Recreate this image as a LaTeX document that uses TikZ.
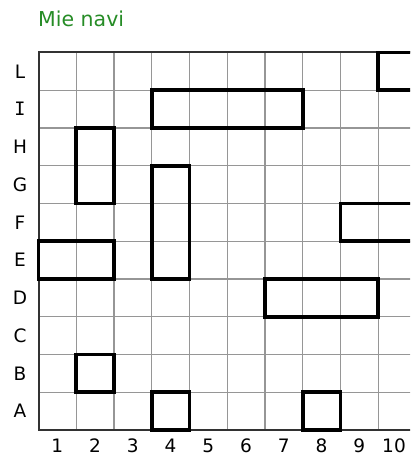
\documentclass[tikz,border=0pt]{standalone}
\usepackage{fontspec}
\setmainfont{DejaVu Sans}
\newfontfamily\monofnt{DejaVu Sans Mono}
\definecolor{titlegreen}{RGB}{38,140,38}
\definecolor{gridgray}{RGB}{150,150,150}
\definecolor{framegray}{RGB}{50,50,50}
\tikzset{
  gridline/.style={draw=gridgray, line width=1.1pt},
  frameline/.style={draw=framegray, line width=2pt},
  shipbox/.style={draw=black, line width=3.6pt, line join=miter},
  rowlab/.style={font=\fontsize{18.5}{18.5}\selectfont, inner sep=0pt, anchor=center},
  collab/.style={font=\fontsize{18.5}{18.5}\selectfont, inner sep=0pt, anchor=center},
  titlelab/.style={font=\fontsize{20.5}{20.5}\selectfont, text=titlegreen, inner sep=0pt, anchor=base west}
}
\newcommand{\gx}[1]{38.5+(#1)*37.75}
\newcommand{\gy}[1]{52.5+(#1)*37.75}
\newcommand{\shiprect}[4]{\draw[shipbox] ({\gx{#1}},{\gy{#3}}) rectangle ({\gx{#2}},{\gy{#4}});}
\begin{document}
\begin{tikzpicture}[x=1pt,y=-1pt]
\useasboundingbox (0,0) rectangle (410,457);
\clip (0,0) rectangle (410,457);
% grid
\foreach \i in {1,...,10} {
  \draw[gridline] ({\gx{\i}},{\gy{0}}) -- ({\gx{\i}},{\gy{10}});
}
\foreach \j in {1,...,9} {
  \draw[gridline] ({\gx{0}},{\gy{\j}}) -- ({\gx{10}},{\gy{\j}});
}
\draw[frameline] ({\gx{10}},{\gy{0}}) -- ({\gx{0}},{\gy{0}}) -- ({\gx{0}},{\gy{10}}) -- ({\gx{10}},{\gy{10}});
% ships
\shiprect{9}{10}{0}{1}
\shiprect{3}{7}{1}{2}
\shiprect{1}{2}{2}{4}
\shiprect{3}{4}{3}{6}
\shiprect{8}{10}{4}{5}
\shiprect{0}{2}{5}{6}
\shiprect{6}{9}{6}{7}
\shiprect{1}{2}{8}{9}
\shiprect{3}{4}{9}{10}
\shiprect{7}{8}{9}{10}
% title
\node[titlelab] (title) at (38,26.5) {Mie navi};
% row labels
\node[rowlab] (rL) at (20,{\gy{0.5}}) {L};
\node[rowlab] (rI) at (20,{\gy{1.5}}) {\monofnt I};
\node[rowlab] (rH) at (20,{\gy{2.5}}) {H};
\node[rowlab] (rG) at (20,{\gy{3.5}}) {G};
\node[rowlab] (rF) at (20,{\gy{4.5}}) {F};
\node[rowlab] (rE) at (20,{\gy{5.5}}) {E};
\node[rowlab] (rD) at (20,{\gy{6.5}}) {D};
\node[rowlab] (rC) at (20,{\gy{7.5}}) {C};
\node[rowlab] (rB) at (20,{\gy{8.5}}) {B};
\node[rowlab] (rA) at (20,{\gy{9.5}}) {A};
% column labels
\foreach \k in {1,...,9} {
  \node[collab] (c\k) at ({\gx{\k-0.5}},446) {\k};
}
\node[collab] (c10) at (394,446) {10};
\end{tikzpicture}
\end{document}
